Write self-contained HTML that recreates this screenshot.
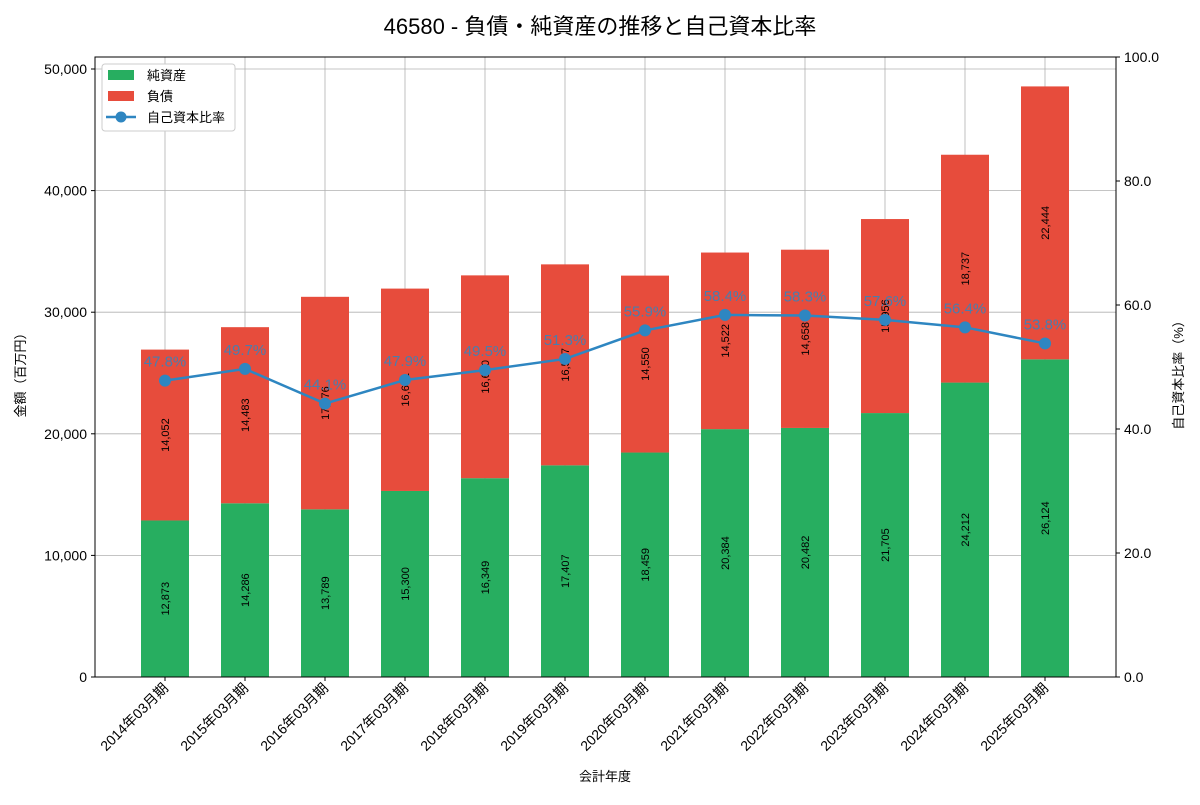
<!DOCTYPE html>
<html><head><meta charset="utf-8"><style>
body{margin:0;background:#fff;font-family:"Liberation Sans","Noto Sans CJK JP",sans-serif;}
svg text{font-family:"Liberation Sans","Noto Sans CJK JP",sans-serif;}
</style></head><body>
<svg id="chart" width="1200" height="800" xmlns="http://www.w3.org/2000/svg">
<text x="600" y="34" text-anchor="middle" font-size="22" fill="#000">46580 - 負債・純資産の推移と自己資本比率</text>
<g id="grid"></g><g id="bars"></g><g id="line"></g><g id="axes"></g>
<text transform="translate(25,372) rotate(-90)" text-anchor="middle" font-size="13">金額（百万円）</text>
<text transform="translate(1183,372) rotate(-90)" text-anchor="middle" font-size="13">自己資本比率（%）</text>
<text x="605" y="781" text-anchor="middle" font-size="13">会計年度</text>
<g>
<rect x="102" y="64" width="133" height="67" fill="#fff" stroke="#ccc" rx="3"/>
<rect x="108" y="70" width="26" height="10" fill="#27ae60"/><text x="147" y="80" font-size="13">純資産</text>
<rect x="108" y="91" width="26" height="10" fill="#e74c3c"/><text x="147" y="101" font-size="13">負債</text>
<line x1="106" y1="117" x2="136" y2="117" stroke="#2e86c1" stroke-width="2.5"/><circle cx="121" cy="117" r="5.5" fill="#2e86c1"/><text x="147" y="122" font-size="13">自己資本比率</text>
</g>
</svg>
<script>
const categories=["2014年03月期","2015年03月期","2016年03月期","2017年03月期","2018年03月期","2019年03月期","2020年03月期","2021年03月期","2022年03月期","2023年03月期","2024年03月期","2025年03月期"];
const netAssets=[12873,14286,13789,15300,16349,17407,18459,20384,20482,21705,24212,26124];
const liabilities=[14052,14483,17476,16641,16680,16527,14550,14522,14658,15956,18737,22444];
const ratios=[47.8,49.7,44.1,47.9,49.5,51.3,55.9,58.4,58.3,57.6,56.4,53.8];
const leftTicks=[0,10000,20000,30000,40000,50000];
const rightTicks=[0,20,40,60,80,100];
const NS="http://www.w3.org/2000/svg";
const L=95,R=1116,T=57,B=677;
const yL=v=>B-v*608/50000;
const yR=v=>B-v*(B-T)/100;
const xC=i=>165+80*i;
const fmt=v=>v.toLocaleString("en-US");
function mk(parent,tag,attrs){const e=document.createElementNS(NS,tag);for(const k in attrs)e.setAttribute(k,attrs[k]);document.getElementById(parent).appendChild(e);return e;}
leftTicks.forEach(t=>{
 const g=mk("grid","line",{x1:L,x2:R,y1:yL(t),y2:yL(t),stroke:"#b0b0b0","stroke-width":0.8});
 
 
 mk("axes","line",{x1:L-4,x2:L,y1:yL(t),y2:yL(t),stroke:"#000"});
 const tx=mk("axes","text",{x:L-8,y:yL(t)+5,"text-anchor":"end","font-size":14});
 tx.textContent=fmt(t);
 
 
});
rightTicks.forEach(t=>{
 mk("axes","line",{x1:R,x2:R+4,y1:yR(t),y2:yR(t),stroke:"#000"});
 const tx=mk("axes","text",{x:R+8,y:yR(t)+5,"font-size":14});
 tx.textContent=t.toFixed(1);
 
 
});
categories.forEach((c,i)=>{
 const x=xC(i);
 const g=mk("grid","line",{x1:x,x2:x,y1:T,y2:B,stroke:"#b0b0b0","stroke-width":0.8});
 
 
 const n=netAssets[i],l=liabilities[i];
 const b1=mk("bars","rect",{x:x-24,width:48,y:yL(n),height:B-yL(n),fill:"#27ae60"});
 
 
 const b2=mk("bars","rect",{x:x-24,width:48,y:yL(n+l),height:yL(n)-yL(n+l),fill:"#e74c3c"});
 
 
 const t1=mk("bars","text",{transform:`translate(${x+4},${yL(n/2)}) rotate(-90)`,"text-anchor":"middle","font-size":11});
 t1.textContent=fmt(n);
 
 
 const t2=mk("bars","text",{transform:`translate(${x+4},${yL(n+l/2)}) rotate(-90)`,"text-anchor":"middle","font-size":11});
 t2.textContent=fmt(l);
 
 
 mk("axes","line",{x1:x,x2:x,y1:B,y2:B+4,stroke:"#000"});
 const xt=mk("axes","text",{transform:`translate(${x+4},${B+12}) rotate(-45)`,"text-anchor":"end","font-size":14});
 xt.textContent=c;
 
 
});
const pl=mk("line","polyline",{points:ratios.map((r,i)=>xC(i)+","+yR(r)).join(" "),fill:"none",stroke:"#2e86c1","stroke-width":2.5});


ratios.forEach((r,i)=>{
 const c=mk("line","circle",{cx:xC(i),cy:yR(r),r:6,fill:"#2e86c1"});
 
 
 const t=mk("line","text",{x:xC(i),y:yR(r)-14,"text-anchor":"middle","font-size":15,fill:"#2e86c1","fill-opacity":0.85});
 t.textContent=r.toFixed(1)+"%";
 
 
});
mk("axes","rect",{x:L,y:T,width:R-L,height:B-T,fill:"none",stroke:"#000","stroke-width":1});
</script>
</body></html>
